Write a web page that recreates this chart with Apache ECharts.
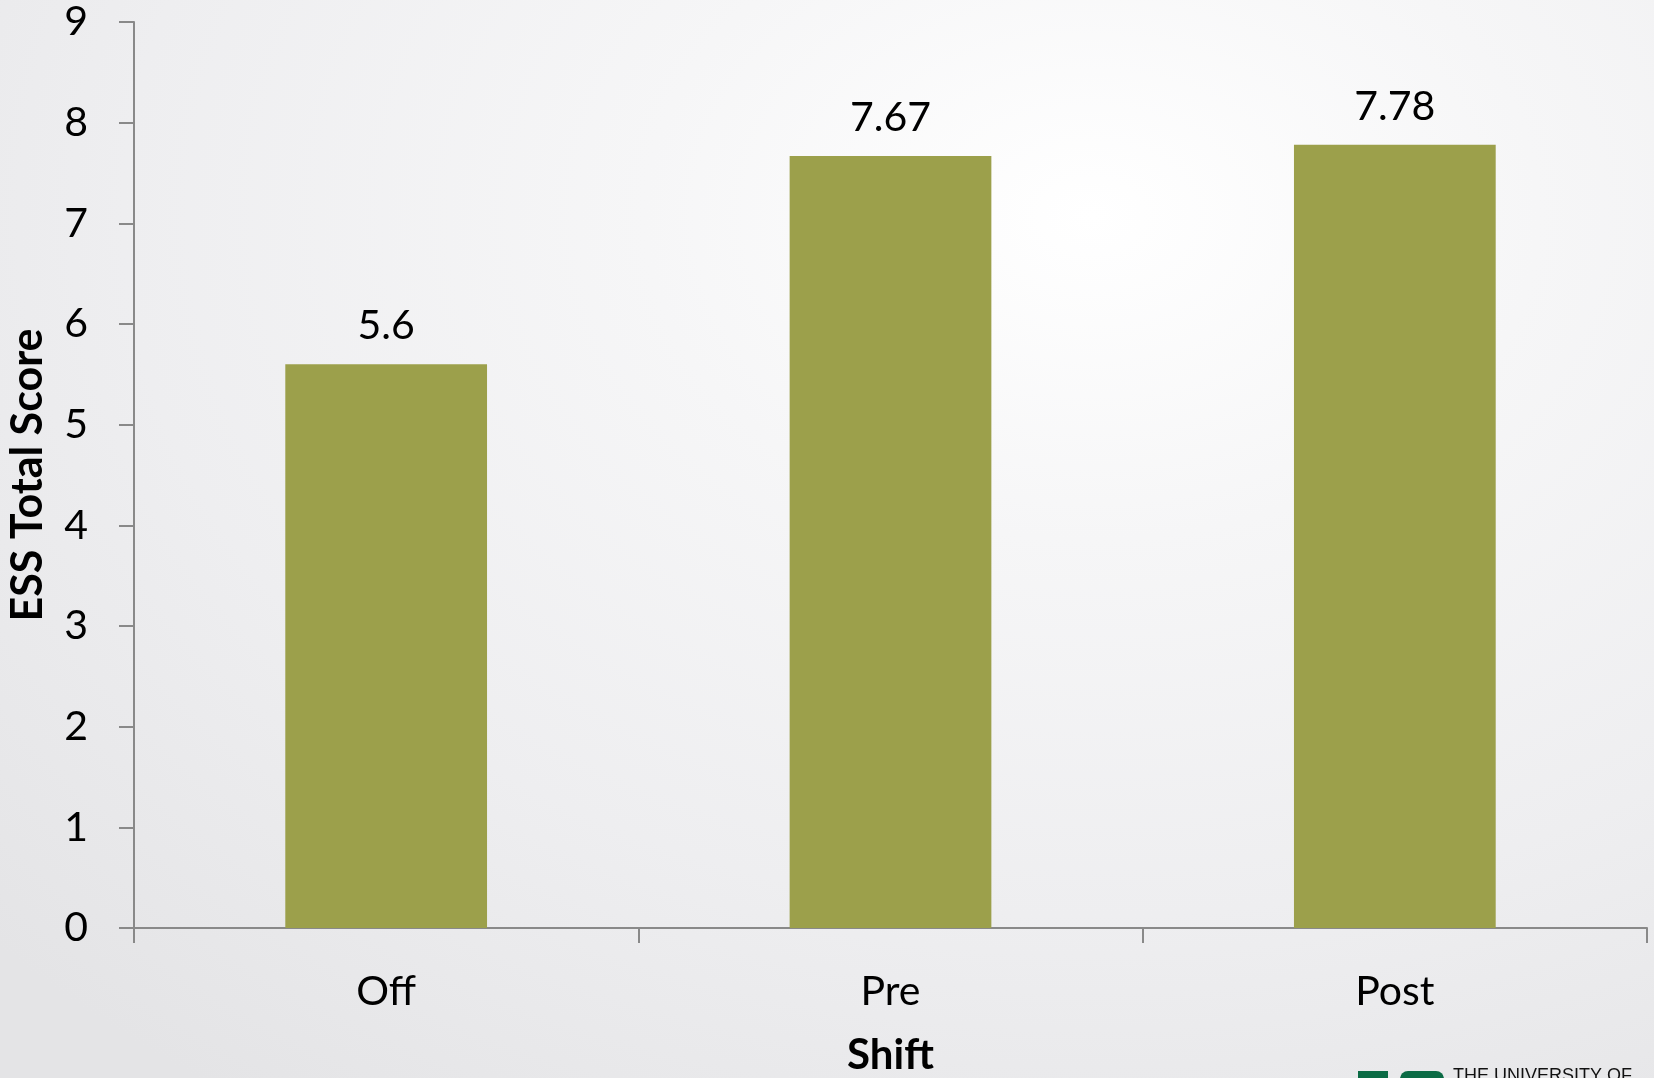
<!DOCTYPE html>
<html>
<head>
<meta charset="utf-8">
<script src="https://cdn.jsdelivr.net/npm/echarts@6/dist/echarts.min.js"></script>
<style>
html,body{margin:0;padding:0;}
#c{width:1654px;height:1078px;background:radial-gradient(ellipse 90% 100% at 66% 20%, #ffffff 0%, #f6f6f7 30%, #eeeef0 65%, #e4e4e6 100%);}
</style>
</head>
<body>
<div id="c"></div>
<script>
var categories = ['Off', 'Pre', 'Post'];
var values = [5.6, 7.67, 7.78];
var yTicks = [0, 1, 2, 3, 4, 5, 6, 7, 8, 9];
var yTitle = 'ESS Total Score';
var xTitle = 'Shift';

var FONT = 'Lato';
var FS = 41;
var chart = echarts.init(document.getElementById('c'));
chart.setOption({
  backgroundColor: 'transparent',
  animation: false,
  grid: {left: 134, top: 22, right: 7, bottom: 150, containLabel: false, outerBoundsMode: 'none'},
  xAxis: {
    type: 'category',
    data: categories,
    name: xTitle,
    nameLocation: 'middle',
    nameGap: 106,
    nameTextStyle: {fontFamily: FONT, fontWeight: 'bold', fontSize: 42, color: '#000'},
    axisLine: {lineStyle: {color: '#898989', width: 2}},
    axisTick: {show: true, length: 15, lineStyle: {color: '#898989', width: 2}},
    axisLabel: {fontFamily: FONT, fontSize: FS, color: '#000', margin: 43}
  },
  yAxis: {
    type: 'value',
    min: yTicks[0],
    max: yTicks[yTicks.length - 1],
    interval: 1,
    name: yTitle,
    nameLocation: 'middle',
    nameGap: 84,
    nameTextStyle: {fontFamily: FONT, fontWeight: 'bold', fontSize: 43, color: '#000'},
    splitLine: {show: false},
    axisLine: {show: true, lineStyle: {color: '#898989', width: 2}},
    axisTick: {show: true, length: 15, lineStyle: {color: '#898989', width: 2}},
    axisLabel: {fontFamily: FONT, fontSize: FS, color: '#000', margin: 46}
  },
  series: [{
    type: 'bar',
    data: values,
    barWidth: '40%',
    itemStyle: {color: '#9ca04b'},
    label: {
      show: true,
      position: 'top',
      distance: 18,
      fontFamily: FONT,
      fontSize: FS,
      color: '#000',
      formatter: function (p) { return String(p.value); }
    }
  }],
  graphic: [
    {type: 'rect', left: 1358, top: 1071, shape: {width: 30, height: 10}, style: {fill: '#0b6b45'}},
    {type: 'rect', left: 1400, top: 1071, shape: {width: 44, height: 10, r: [8, 8, 0, 0]}, style: {fill: '#0b6b45'}},
    {type: 'text', left: 1453, top: 1067, style: {text: 'THE UNIVERSITY OF', fontFamily: 'Liberation Sans', fontSize: 18, fill: '#111'}}
  ]
});
</script>
</body>
</html>
